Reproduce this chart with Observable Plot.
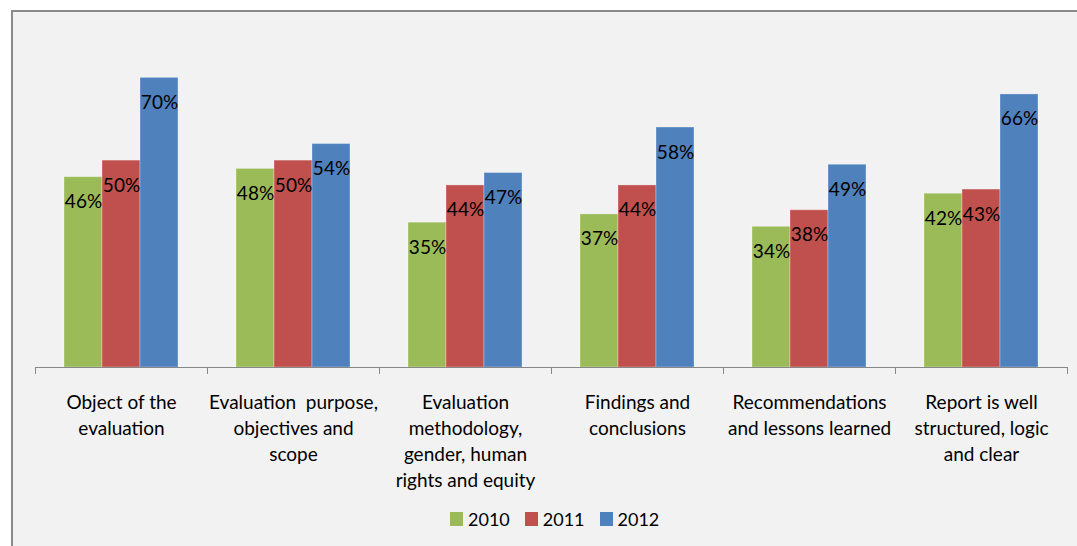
<!DOCTYPE html>
<html>
<head>
<meta charset="utf-8">
<script src="https://cdn.jsdelivr.net/npm/d3@7"></script>
<script src="https://cdn.jsdelivr.net/npm/@observablehq/plot@0.6"></script>
<style>
  html, body { margin: 0; padding: 0; background: #fff; width: 1077px; height: 546px; overflow: hidden; font-family: Lato, sans-serif; }
  #bg { position: absolute; left: 11px; top: 10px; width: 1100px; height: 600px; background: #f2f2f2; border-left: 2px solid #8a8a8a; border-top: 2px solid #8a8a8a; }
  #chart { position: absolute; left: 0; top: 0; }
  #legend { position: absolute; left: 450px; top: 508px; display: flex; align-items: center; font-size: 18px; color: #000; font-family: Lato, sans-serif; }
  .item { display: flex; align-items: center; margin-right: 15px; }
  .sw { width: 13px; height: 14px; margin-right: 5px; }
</style>
</head>
<body>
<div id="bg"></div>
<div id="chart"></div>
<div id="legend"></div>
<script>
const categories = [
  "Object of the\nevaluation",
  "Evaluation  purpose,\nobjectives and\nscope",
  "Evaluation\nmethodology,\ngender, human\nrights and equity",
  "Findings and\nconclusions",
  "Recommendations\nand lessons learned",
  "Report is well\nstructured, logic\nand clear"
];
const years = ["2010", "2011", "2012"];
const values2010 = [46, 48, 35, 37, 34, 42];
const values2011 = [50, 50, 44, 44, 38, 43];
const values2012 = [70, 54, 47, 58, 49, 66];
const colors = ["#9bbb59", "#c0504d", "#4f81bd"];

const series = [values2010, values2011, values2012];
const data = [];
categories.forEach((c, i) => {
  years.forEach((y, j) => data.push({category: c, year: y, value: series[j][i]}));
});

const H = 500, MT = 36, MB = 133;
const chart = Plot.plot({
  width: 1077,
  height: H,
  marginTop: MT,
  marginBottom: MB,
  marginLeft: 34,
  marginRight: 9,
  style: {background: "transparent", fontFamily: "Lato, sans-serif", fontSize: "19px", color: "#000"},
  fx: {domain: categories, padding: 0, label: null, axis: null},
  x: {domain: years, paddingInner: 0, paddingOuter: 0.748, axis: null},
  y: {domain: [0, 80], axis: null},
  color: {domain: years, range: colors},
  marks: [
    Plot.barY(data, {fx: "category", x: "year", y: "value", fill: "year", stroke: "#fff", strokeOpacity: 0.3}),
    Plot.ruleY([0], {stroke: "#888"}),
    Plot.frame({anchor: "left", stroke: "#888", insetTop: H - MT - MB, insetBottom: -6}),
    Plot.frame({anchor: "right", stroke: "#888", insetTop: H - MT - MB, insetBottom: -6}),
    Plot.text(data, {fx: "category", x: "year", y: "value", text: d => d.value + "%", lineAnchor: "top", dy: 17.5, fontSize: 19, fill: "#000"}),
    Plot.axisFx({anchor: "bottom", tickSize: 0, tickPadding: 23, fontSize: 19, lineHeight: 26 / 19, label: null})
  ]
});
document.getElementById("chart").append(chart);

const legend = document.getElementById("legend");
years.forEach((y, i) => {
  const item = document.createElement("div");
  item.className = "item";
  const sw = document.createElement("div");
  sw.className = "sw";
  sw.style.background = colors[i];
  const t = document.createElement("span");
  t.textContent = y;
  item.append(sw, t);
  legend.append(item);
});
</script>
</body>
</html>
